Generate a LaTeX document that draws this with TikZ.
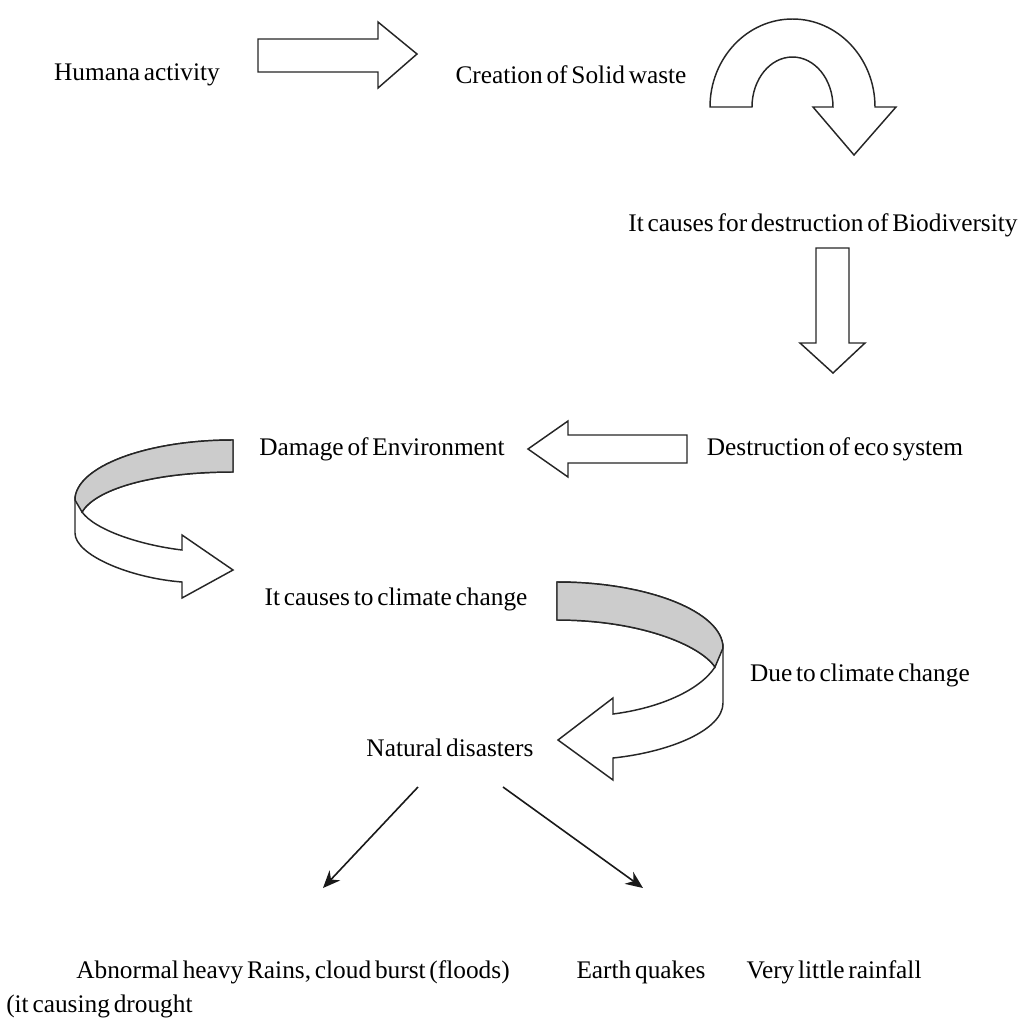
\documentclass[tikz,border=0pt]{standalone}
\usepackage{fontspec}
\setmainfont{Liberation Serif}
\usetikzlibrary{arrows.meta}
\newcommand{\lblfont}{\fontsize{19}{22}\selectfont\spaceskip=0.15em plus 0.05em\relax}
\tikzset{
  lbl/.style={inner sep=0pt, font=\lblfont, text=black},
  blockarrow/.style={draw=black!85, line width=1.1pt, fill=white, line join=miter},
  band/.style={fill=black!20},
  thin/.style={draw=black!90, line width=1.2pt, -{Stealth[length=13pt,width=11pt]}}
}
\begin{document}
\begin{tikzpicture}[x=0.75pt,y=-0.75pt]
\useasboundingbox (0,0) rectangle (1021,1029);
% texts
\node[lbl] (hum) at (137,75) {Humana activity};
\node[lbl] (cre) at (571,75) {Creation of Solid waste};
\node[lbl] (bio) at (823,225) {It causes for destruction of Biodiversity};
\node[lbl] (eco) at (835,449) {Destruction of eco system};
\node[lbl] (dam) at (382,449) {Damage of Environment};
\node[lbl] (cli) at (396,599) {It causes to climate change};
\node[lbl] (due) at (860,675) {Due to climate change};
\node[lbl] (nat) at (450,748) {Natural disasters};
\node[lbl] (rain) at (293,972) {Abnormal heavy Rains, cloud burst (floods)};
\node[lbl] (quake) at (641,972) {Earth quakes};
\node[lbl] (little) at (834,972) {Very little rainfall};
\node[lbl, anchor=west] (drought) at (6,1006) {(it causing drought};
% straight block arrow right
\draw[blockarrow] (258,39) -- (378,39) -- (378,22) -- (417,54) -- (378,88) -- (378,72) -- (258,72) -- cycle;
% U-turn arrow
\draw[blockarrow] (710,107) .. controls (710,58.4) and (746.9,19) .. (792.5,19)
  .. controls (838.1,19) and (875,58.4) .. (875,107) -- (896,107) -- (854,155) -- (813,107) -- (833,107)
  .. controls (833,79.4) and (814.9,57) .. (792.5,57)
  .. controls (770.1,57) and (752,79.4) .. (752,107) -- cycle;
% down arrow
\draw[blockarrow] (816,248) -- (849,248) -- (849,343) -- (865,343) -- (833,373) -- (800,343) -- (816,343) -- cycle;
% left arrow
\draw[blockarrow] (687,435) -- (568,435) -- (568,421) -- (528,449) -- (568,477) -- (568,463) -- (687,463) -- cycle;
% curved ribbon arrow (left)
\draw[blockarrow] (233,440) .. controls (146,440) and (75,467) .. (75,500) -- (75,533)
  .. controls (75,555) and (130,578) .. (182,582) -- (182,598) -- (233,570) -- (182,535) -- (182,550)
  .. controls (140,545) and (95,530) .. (82,512)
  .. controls (95,490) and (150,472) .. (233,472) -- cycle;
\filldraw[band, draw=black!85, line width=1.1pt] (233,440) .. controls (146,440) and (75,467) .. (75,500) -- (82,512)
  .. controls (95,490) and (150,472) .. (233,472) -- cycle;
% curved ribbon arrow (right)
\draw[blockarrow] (557,582) .. controls (648,582) and (723,612) .. (723,648) -- (723,703)
  .. controls (723,730) and (670,752) .. (613,758) -- (613,780) -- (558,740) -- (613,698) -- (613,714)
  .. controls (660,708) and (700,690) .. (715,667)
  .. controls (700,645) and (640,620) .. (557,620) -- cycle;
\filldraw[band, draw=black!85, line width=1.1pt] (557,582) .. controls (648,582) and (723,612) .. (723,648) -- (715,667)
  .. controls (700,645) and (640,620) .. (557,620) -- cycle;
% thin arrows
\coordinate (s1) at (418,787);
\coordinate (e1) at (323,888);
\coordinate (s2) at (503,787);
\coordinate (e2) at (643,888);
\draw[thin] (s1) -- (e1);
\draw[thin] (s2) -- (e2);
\end{tikzpicture}
\end{document}
